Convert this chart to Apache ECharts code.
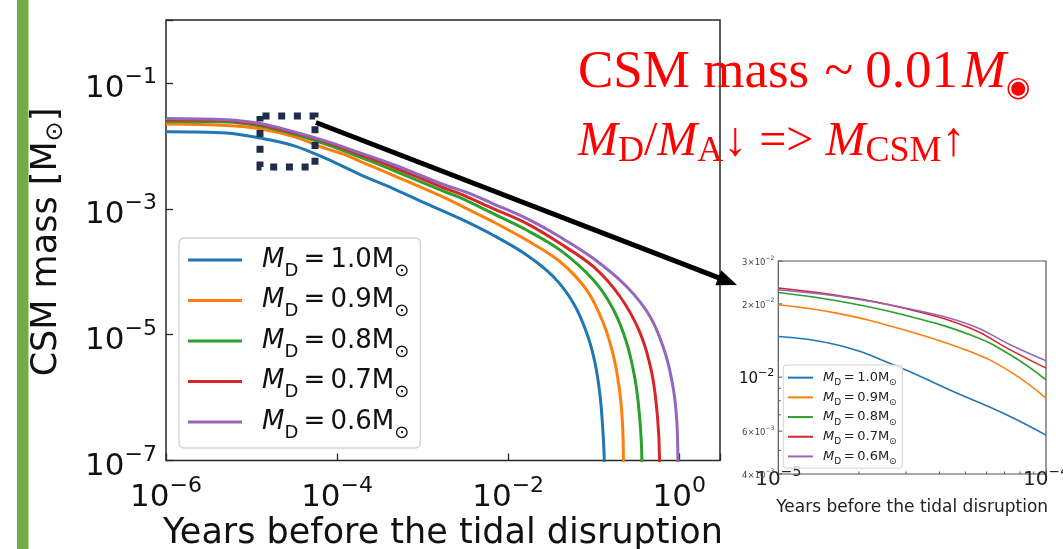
<!DOCTYPE html>
<html>
<head>
<meta charset="utf-8">
<script src="https://cdn.jsdelivr.net/npm/echarts@6/dist/echarts.min.js"></script>
<style>
html, body { margin: 0; padding: 0; background: #fff; }
#chart { width: 1063px; height: 549px; }
</style>
</head>
<body>
<div id="chart"></div>
<script>
// ---- values ----
const donorMasses = ['1.0', '0.9', '0.8', '0.7', '0.6'];
const lineColors = ['#1f77b4', '#ff7f0e', '#2ca02c', '#d62728', '#9467bd'];

// main panel: [years before the tidal disruption, CSM mass (Msun)]
const massD10 = [[1e-6, 0.0168], [5.1e-6, 0.0160], [1.26e-5, 0.0133], [3.1e-5, 0.0101], [7.6e-5, 0.0062],
  [1.86e-4, 0.0035], [4.6e-4, 0.00208], [1.12e-3, 0.00120], [2.75e-3, 6.97e-4], [6.7e-3, 3.8e-4],
  [0.0166, 1.83e-4], [0.0339, 8.3e-5], [0.058, 3.16e-5], [0.083, 1.06e-5], [0.104, 3.5e-6],
  [0.119, 1.05e-6], [0.128, 3.1e-7], [0.133, 1.0e-7], [0.135, 1e-9]];
const massD09 = [[1e-6, 0.0222], [5e-6, 0.0211], [1.26e-5, 0.0187], [3.1e-5, 0.0140], [7.6e-5, 0.00893],
  [1.17e-4, 0.00745], [1.86e-4, 0.00569], [4.6e-4, 0.00337], [1.75e-3, 0.00153], [2.75e-3, 0.00113],
  [6.7e-3, 6.2e-4], [0.0166, 3.16e-4], [0.0406, 1.44e-4], [0.083, 5.1e-5], [0.130, 1.52e-5],
  [0.171, 4.5e-6], [0.200, 1.34e-6], [0.217, 4.0e-7], [0.223, 1.05e-7], [0.226, 1e-9]];
const massD08 = [[1e-6, 0.0244], [5e-6, 0.0240], [1.26e-5, 0.0207], [3.1e-5, 0.0154], [7.6e-5, 0.01045],
  [1.86e-4, 0.0066], [4.6e-4, 0.00406], [1.75e-3, 0.00191], [2.75e-3, 0.0015], [6.7e-3, 8.36e-4],
  [0.0166, 4.55e-4], [0.0406, 2.2e-4], [0.0995, 7.36e-5], [0.171, 2.47e-5], [0.244, 7.3e-6],
  [0.305, 1.93e-6], [0.344, 5.06e-7], [0.366, 1.05e-7], [0.37, 1e-9]];
const massD07 = [[1e-6, 0.0260], [5e-6, 0.0254], [1.26e-5, 0.0216], [3.1e-5, 0.0162], [7.6e-5, 0.01138],
  [1.86e-4, 0.00726], [4.6e-4, 0.00457], [1.75e-3, 0.00216], [2.75e-3, 0.00173], [6.7e-3, 0.001005],
  [0.0166, 5.8e-4], [0.0406, 2.8e-4], [0.0995, 1.2e-4], [0.204, 4.0e-5], [0.35, 1.06e-5],
  [0.479, 2.45e-6], [0.557, 5.06e-7], [0.589, 1.05e-7], [0.595, 1e-9]];
const massD06 = [[1e-6, 0.0272], [5e-6, 0.0260], [1.26e-5, 0.0227], [3.1e-5, 0.0168], [7.6e-5, 0.01178],
  [1.86e-4, 0.00773], [4.6e-4, 0.00501], [1.75e-3, 0.00243], [3.3e-3, 0.00182], [6.7e-3, 0.0012],
  [0.0166, 6.97e-4], [0.0406, 3.56e-4], [0.0995, 1.62e-4], [0.244, 5.77e-5], [0.458, 1.93e-5],
  [0.686, 5.1e-6], [0.857, 1.34e-6], [0.94, 4.0e-7], [0.966, 1.05e-7], [0.975, 1e-9]];

// inset (zoom on 1e-5 .. 1e-4 yr)
const zoomD10 = [[1e-5, 0.01469], [1.65e-5, 0.01358], [2.69e-5, 0.01125], [4.5e-5, 0.00873], [6.93e-5, 0.00711], [1e-4, 0.00578]];
const zoomD09 = [[1e-5, 0.01982], [1.65e-5, 0.01832], [2.93e-5, 0.01567], [5.2e-5, 0.01274], [7.35e-5, 0.01054], [1e-4, 0.0082]];
const zoomD08 = [[1e-5, 0.02228], [1.65e-5, 0.0206], [2.93e-5, 0.01803], [5.2e-5, 0.01493], [7.35e-5, 0.01236], [1e-4, 0.00975]];
const zoomD07 = [[1e-5, 0.02323], [1.65e-5, 0.02168], [2.93e-5, 0.01923], [5.2e-5, 0.01592], [7.35e-5, 0.01294], [1e-4, 0.01089]];
const zoomD06 = [[1e-5, 0.02286], [1.65e-5, 0.02153], [2.93e-5, 0.01932], [5.2e-5, 0.0164], [7.35e-5, 0.01358], [1e-4, 0.01167]];

// inset tick values
const insetYTicks = [4e-3, 6e-3, 1e-2, 2e-2, 3e-2];
const insetYMinor = [5e-3, 7e-3, 8e-3, 9e-3];
const insetXMinor = [2e-5, 3e-5, 4e-5, 5e-5, 6e-5, 7e-5, 8e-5, 9e-5];

const mainData = [massD10, massD09, massD08, massD07, massD06];
const zoomData = [zoomD10, zoomD09, zoomD08, zoomD07, zoomD06];
const seriesNames = donorMasses.map(m => 'MD=' + m);

const FONT = 'DejaVu Sans';
const expText = e => (e < 0 ? '\u2212' + (-e) : String(e));
const decade = v => {
  const lg = Math.log10(v);
  const e = Math.round(lg);
  return Math.abs(lg - e) < 1e-6 ? e : null;
};
const legendText = name => {
  const m = name.slice(3);
  return '{m|M}{d|D}{t|\u2009=\u2009' + m + 'M}{d|\u2299}';
};

const chart = echarts.init(document.getElementById('chart'));

const option = {
  animation: false,
  backgroundColor: '#fff',
  grid: [
    { left: 166, top: 20, width: 554, height: 440.5, show: true, borderColor: '#262626', borderWidth: 1.5, outerBoundsMode: 'none' },
    { left: 778.3, top: 261, width: 267.7, height: 213, show: true, borderColor: '#555', borderWidth: 1.2, outerBoundsMode: 'none' }
  ],
  xAxis: [
    {
      gridIndex: 0, type: 'log', logBase: 10, min: 1e-6, max: 3, interval: 2,
      axisLine: { show: false }, splitLine: { show: false },
      axisTick: { inside: true, length: 7, lineStyle: { color: '#262626', width: 1.3 } },
      axisLabel: {
        margin: 15,
        formatter: v => {
          const e = decade(v);
          if (e === null || e % 2 !== 0) return '';
          return '{b|10}{s|' + expText(e) + '}';
        },
        rich: {
          b: { fontFamily: FONT, fontSize: 31, lineHeight: 38, verticalAlign: 'bottom', color: '#111' },
          s: { fontFamily: FONT, fontSize: 22, lineHeight: 12, verticalAlign: 'top', color: '#111' }
        }
      }
    },
    {
      gridIndex: 1, type: 'log', logBase: 10, min: 1e-5, max: 1e-4,
      axisLine: { show: false }, splitLine: { show: false },
      axisTick: { inside: true, length: 4, lineStyle: { color: '#555', width: 1 } },
      axisLabel: {
        margin: -8.5,
        formatter: v => {
          const e = decade(v);
          if (e === null) return '';
          return '{b|10}{s|' + expText(e) + '}';
        },
        rich: {
          b: { fontFamily: FONT, fontSize: 20, lineHeight: 24, verticalAlign: 'bottom', color: '#222' },
          s: { fontFamily: FONT, fontSize: 14, lineHeight: 12, verticalAlign: 'top', color: '#222' }
        }
      },
      name: 'Years before the tidal disruption', nameLocation: 'middle', nameGap: 24,
      nameTextStyle: { fontFamily: FONT, fontSize: 17, lineHeight: 20, color: '#222' }
    }
  ],
  yAxis: [
    {
      gridIndex: 0, type: 'log', logBase: 10, min: 1e-7, max: 1, interval: 2,
      axisLine: { show: false }, splitLine: { show: false },
      axisTick: { inside: true, length: 7, lineStyle: { color: '#262626', width: 1.3 } },
      axisLabel: {
        margin: 9, padding: [5, 0, 0, 0],
        formatter: v => {
          const e = decade(v);
          if (e === null || e >= 0 || e % 2 === 0) return '';
          return '{b|10}{s|' + expText(e) + '}';
        },
        rich: {
          b: { fontFamily: FONT, fontSize: 31, lineHeight: 38, verticalAlign: 'bottom', color: '#111' },
          s: { fontFamily: FONT, fontSize: 22, lineHeight: 25, verticalAlign: 'top', color: '#111' }
        }
      }
    },
    {
      gridIndex: 1, type: 'log', logBase: 10, min: 4e-3, max: 3e-2,
      axisLine: { show: false }, splitLine: { show: false },
      axisTick: { show: false }, axisLabel: { show: false }
    }
  ],
  legend: [
    {
      data: seriesNames, orient: 'vertical', left: 179, top: 238,
      padding: [2, 11, 6, 9], itemGap: 0.5, itemWidth: 54, itemHeight: 3, icon: 'rect',
      backgroundColor: 'rgba(255,255,255,0.8)', borderColor: '#d2d2d2', borderWidth: 1.3, borderRadius: 5,
      selectedMode: false,
      formatter: legendText,
      textStyle: {
        fontFamily: FONT, fontSize: 26, lineHeight: 40, color: '#111',
        rich: {
          m: { fontFamily: FONT, fontStyle: 'italic', fontSize: 26, lineHeight: 40, verticalAlign: 'middle', padding: [0, 0, 0, 15], color: '#111' },
          d: { fontFamily: FONT, fontSize: 18, lineHeight: 29, verticalAlign: 'bottom', color: '#111' },
          t: { fontFamily: FONT, fontSize: 26, lineHeight: 40, verticalAlign: 'middle', color: '#111' }
        }
      }
    },
    {
      data: seriesNames, orient: 'vertical', left: 783.3, top: 365,
      padding: [2.8, 5.7, 1.9, 4.7], itemGap: 0, itemWidth: 25, itemHeight: 2, icon: 'rect',
      backgroundColor: 'rgba(255,255,255,0.8)', borderColor: '#d2d2d2', borderWidth: 1, borderRadius: 3,
      selectedMode: false,
      formatter: legendText,
      textStyle: {
        fontFamily: FONT, fontSize: 13, lineHeight: 19.7, color: '#222',
        rich: {
          m: { fontFamily: FONT, fontStyle: 'italic', fontSize: 13, lineHeight: 19.7, verticalAlign: 'middle', padding: [0, 0, 0, 5], color: '#222' },
          d: { fontFamily: FONT, fontSize: 9, lineHeight: 14.2, verticalAlign: 'bottom', color: '#222' },
          t: { fontFamily: FONT, fontSize: 13, lineHeight: 19.7, verticalAlign: 'middle', color: '#222' }
        }
      }
    }
  ],
  series: [
    ...mainData.map((d, i) => ({
      name: seriesNames[i], type: 'line', xAxisIndex: 0, yAxisIndex: 0, data: d,
      symbol: 'none', smooth: 0.35, clip: true,
      color: lineColors[i], lineStyle: { width: 3, color: lineColors[i] }, z: 2
    })),
    ...zoomData.map((d, i) => ({
      name: seriesNames[i], type: 'line', xAxisIndex: 1, yAxisIndex: 1, data: d,
      symbol: 'none', smooth: 0.45, clip: true,
      color: lineColors[i], lineStyle: { width: 1.6, color: lineColors[i] }, z: 2
    }))
  ]
};

chart.setOption(option);

// ---- annotations and inset ticks (positions through the inset's own scales) ----
const toPx = (g, p) => chart.convertToPixel({ gridIndex: g }, p);
const graphics = [];

// slide's green side bar
graphics.push({ type: 'rect', shape: { x: 17, y: 0, width: 11.5, height: 549 }, style: { fill: '#70ad47' }, z: 0 });

// main axis titles
graphics.push({
  type: 'text', x: 443, y: 534, z: 5,
  style: { text: 'Years before the tidal disruption', fontFamily: FONT, fontSize: 35, fill: '#111', align: 'center', verticalAlign: 'middle' }
});
graphics.push({
  type: 'text', x: 46.5, y: 242, rotation: Math.PI / 2, z: 5,
  style: {
    text: '{t|CSM mass [M}{o|\u2299}{t|]}', fill: '#111', align: 'center', verticalAlign: 'middle',
    rich: {
      t: { fontFamily: FONT, fontSize: 35, lineHeight: 42, verticalAlign: 'middle' },
      o: { fontFamily: FONT, fontSize: 24, lineHeight: 30, verticalAlign: 'bottom' }
    }
  }
});

// inset y ticks + labels
insetYTicks.forEach(v => {
  const [x0, y] = toPx(1, [1e-5, v]);
  graphics.push({ type: 'line', shape: { x1: x0, y1: y, x2: x0 + 4, y2: y }, style: { stroke: '#555', lineWidth: 1 }, z: 5 });
  const e = Math.floor(Math.log10(v) + 1e-9);
  const mant = Math.round(v / Math.pow(10, e));
  const txt = mant === 1
    ? '{B|10}{E|' + expText(e) + '}'
    : '{a|' + mant + '\u00d710}{e|' + expText(e) + '}';
  graphics.push({
    type: 'text', x: x0 - 4, y: y, z: 5,
    style: {
      text: txt, align: 'right', verticalAlign: 'middle', fill: '#333', fontFamily: FONT,
      rich: {
        a: { fontFamily: FONT, fontSize: 8.5, lineHeight: 12, verticalAlign: 'bottom', fill: '#444' },
        e: { fontFamily: FONT, fontSize: 6, lineHeight: 6, verticalAlign: 'top', fill: '#444' },
        B: { fontFamily: FONT, fontSize: 15, lineHeight: 18, verticalAlign: 'bottom', fill: '#111' },
        E: { fontFamily: FONT, fontSize: 11, lineHeight: 8, verticalAlign: 'top', fill: '#111' }
      }
    }
  });
});
insetYMinor.forEach(v => {
  const [x0, y] = toPx(1, [1e-5, v]);
  graphics.push({ type: 'line', shape: { x1: x0, y1: y, x2: x0 + 2.5, y2: y }, style: { stroke: '#555', lineWidth: 1 }, z: 5 });
});
insetXMinor.forEach(v => {
  const [x, y0] = toPx(1, [v, 4e-3]);
  graphics.push({ type: 'line', shape: { x1: x, y1: y0, x2: x, y2: y0 - 2.5 }, style: { stroke: '#555', lineWidth: 1 }, z: 5 });
});

// dotted box marking the zoomed region
graphics.push({
  type: 'rect', shape: { x: 260, y: 116, width: 55, height: 51 }, z: 10,
  style: { fill: 'none', stroke: '#1f2d4d', lineWidth: 7, lineDash: [7, 8.7], lineDashOffset: -2.5 }
});

// arrow to the inset
graphics.push({ type: 'line', shape: { x1: 316, y1: 122.5, x2: 719, y2: 277.8 }, style: { stroke: '#000', lineWidth: 5 }, z: 10 });
graphics.push({ type: 'polygon', shape: { points: [[737, 285], [715.4, 285.3], [721.2, 270.3]] }, style: { fill: '#000' }, z: 10 });

// red slide text
graphics.push({
  type: 'text', x: 578, y: 43, z: 1,
  style: {
    text: '{a|CSM mass }{t|~}{a|0.01}{c|M}{o|\u25c9}',
    fill: '#ff0000', verticalAlign: 'top', align: 'left',
    rich: {
      a: { fontFamily: 'Liberation Serif', fontSize: 53, lineHeight: 60, verticalAlign: 'middle' },
      t: { fontFamily: 'Liberation Serif', fontSize: 53, lineHeight: 60, verticalAlign: 'middle', padding: [0, 12, 0, 2] },
      c: { fontFamily: 'Liberation Serif', fontStyle: 'italic', fontSize: 53, lineHeight: 60, verticalAlign: 'middle', padding: [0, 0, 0, 4] },
      o: { fontFamily: FONT, fontSize: 28, lineHeight: 28, verticalAlign: 'bottom' }
    }
  }
});
graphics.push({
  type: 'text', x: 578, y: 114, z: 1,
  style: {
    text: '{i|M}{s|D}{n|/}{i|M}{s|A}{n|\u2193 => }{i|M}{s|CSM}{n|\u2191}',
    fill: '#ff0000', verticalAlign: 'top', align: 'left',
    rich: {
      i: { fontFamily: 'Liberation Serif', fontStyle: 'italic', fontSize: 48, lineHeight: 56, verticalAlign: 'middle' },
      s: { fontFamily: 'Liberation Serif', fontSize: 36, lineHeight: 20, verticalAlign: 'bottom' },
      n: { fontFamily: 'Liberation Serif', fontSize: 48, lineHeight: 56, verticalAlign: 'middle' }
    }
  }
});

chart.setOption({ graphic: graphics });
</script>
</body>
</html>
